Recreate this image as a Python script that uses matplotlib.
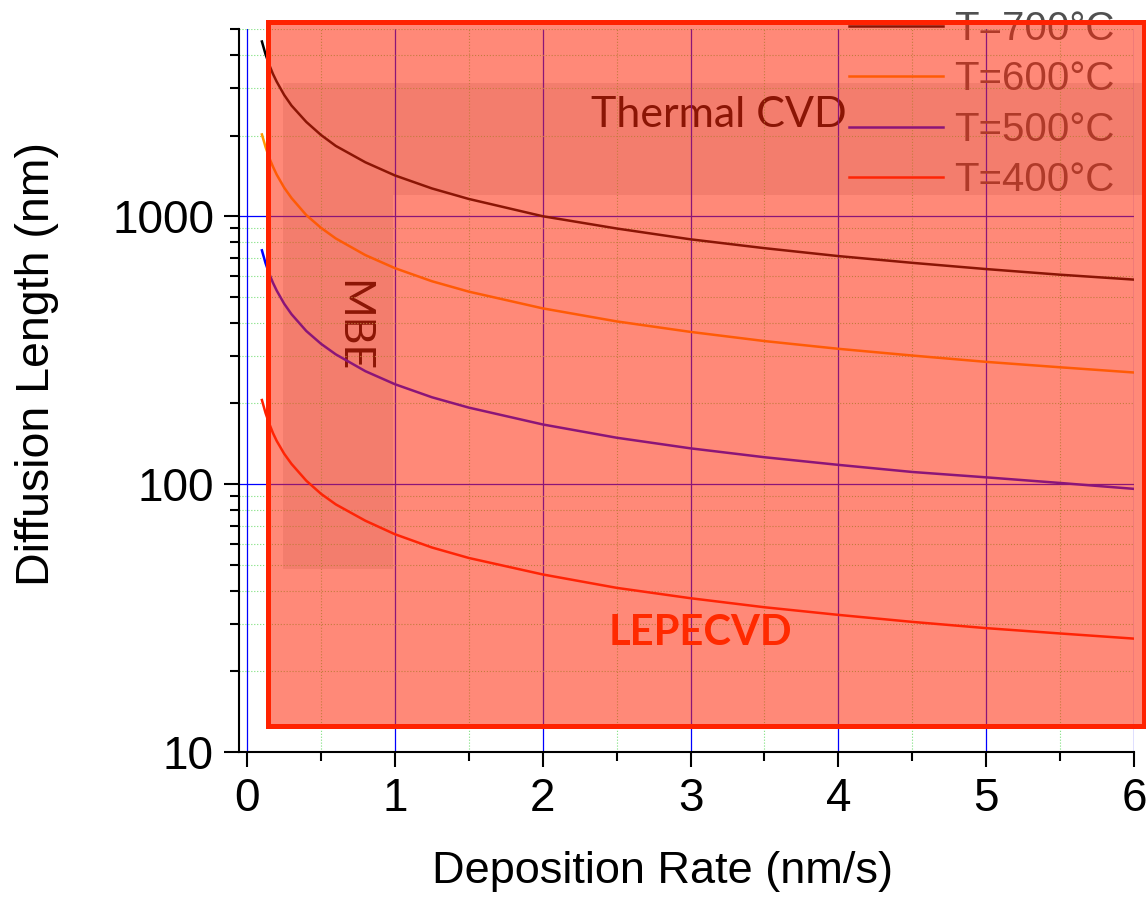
import matplotlib.pyplot as plt
import matplotlib.ticker as mticker
from matplotlib.patches import Rectangle

W, H = 1146, 906

# deposition rate (nm/s)
rate = [0.1, 0.125, 0.15, 0.175, 0.2, 0.25, 0.3, 0.4, 0.5, 0.6, 0.8, 1.0, 1.25, 1.5,
        2.0, 2.5, 3.0, 3.5, 4.0, 4.5, 5.0, 5.5, 6.0]

# diffusion length (nm)
d700 = [4490, 4015, 3670, 3395, 3180, 2840, 2590, 2250, 2010, 1830, 1590, 1420, 1270, 1160,
        1000, 900, 820, 760, 710, 670, 635, 605, 580]
d600 = [2020, 1810, 1650, 1530, 1430, 1280, 1170, 1010, 905, 826, 716, 640, 572, 523,
        453, 405, 370, 342, 320, 302, 286, 273, 261]
d500 = [746, 667, 609, 564, 528, 472, 431, 373, 334, 305, 264, 236, 211, 193,
        167, 149, 136, 126, 118, 111, 106, 101, 96]
d400 = [206, 184, 168, 155, 145, 130, 119, 103, 92, 84, 73, 65, 58, 53,
        46, 41, 37.5, 34.7, 32.5, 30.6, 29, 27.7, 26.5]

labels = ['T=700°C', 'T=600°C', 'T=500°C', 'T=400°C']
colors = ['#000000', '#FF9900', '#0000FF', '#FF2000']

plt.rcParams['font.family'] = ['Liberation Sans', 'DejaVu Sans']

fig = plt.figure(figsize=(W / 100, H / 100), dpi=100)
ax = fig.add_axes([239 / W, 154 / H, (1134 - 239) / W, (752 - 29) / H])

ax.set_yscale('log')
ax.set_xlim(-0.055, 6)
ax.set_ylim(10, 5000)

handles = []
for d, lab, c in zip([d700, d600, d500, d400], labels, colors):
    ln, = ax.plot(rate, d, color=c, lw=1.8, label=lab, zorder=2)
    handles.append(ln)

# ticks
ax.xaxis.set_major_locator(mticker.MultipleLocator(1))
ax.xaxis.set_minor_locator(mticker.MultipleLocator(0.5))
ax.yaxis.set_major_locator(mticker.LogLocator(base=10))
ax.yaxis.set_minor_locator(mticker.LogLocator(base=10, subs=range(2, 10)))
ax.yaxis.set_major_formatter(mticker.FuncFormatter(lambda v, p: '%d' % v))
ax.yaxis.set_minor_formatter(mticker.NullFormatter())
ax.tick_params(which='major', direction='out', length=11, width=1.5,
               labelsize=33, pad=7)
ax.tick_params(which='minor', direction='out', length=6.5, width=1.5)

for s in ['top', 'right']:
    ax.spines[s].set_visible(False)
for s in ['left', 'bottom']:
    ax.spines[s].set_linewidth(1.5)

ax.set_axisbelow('line')
ax.grid(which='major', color='#0000FF', lw=0.9)
ax.grid(which='minor', color='#7CE07C', lw=0.8, ls=':')

# shaded regions of the growth techniques
ax.add_patch(Rectangle((0.244, 1198), 6.069 - 0.244, 3133 - 1198,
                       facecolor=(0, 0, 0, 0.1), edgecolor='none',
                       zorder=0.8, clip_on=False))
ax.add_patch(Rectangle((0.244, 48.2), 0.988 - 0.244, 1198 - 48.2,
                       facecolor=(0, 0, 0, 0.1), edgecolor='none',
                       zorder=0.8))
ax.text(3.19, 2147, 'Thermal CVD', family='Lato', fontsize=31,
        color='black', ha='center', va='baseline', zorder=1.2)
ax.text(0.71, 389, 'MBE', family='Lato', fontsize=31, rotation=270,
        color='black', ha='center', va='center', zorder=1.2)

leg = ax.legend(handles=handles, loc='upper left',
                bbox_to_anchor=(849 / W, 896 / H), bbox_transform=fig.transFigure,
                frameon=False, fontsize=29, handlelength=2.33,
                handletextpad=0.28, labelspacing=0.31, borderpad=0,
                borderaxespad=0)
for t in leg.get_texts():
    t.set_color('#505050')
leg.set_zorder(5)

# LEPECVD window
ax.add_patch(Rectangle((0.142, 12.5), 6.069 - 0.142, 5300 - 12.5,
                       facecolor=(1.0, 40 / 255, 10 / 255, 0.55),
                       edgecolor='#FF2200', lw=3.6, zorder=6, clip_on=False))
ax.text(3.065, 25.1, 'LEPECVD', family='Lato', fontsize=30, weight='bold',
        color='#FF2A00', ha='center', va='baseline', zorder=7)

fig.text(663 / W, (H - 883) / H, 'Deposition Rate (nm/s)', fontsize=32.5,
         ha='center', va='baseline')
fig.text(37 / W, (H - 364) / H, 'Diffusion Length (nm)', fontsize=33.5,
         rotation=90, ha='center', va='center')

fig.savefig('out.png', dpi=100)
